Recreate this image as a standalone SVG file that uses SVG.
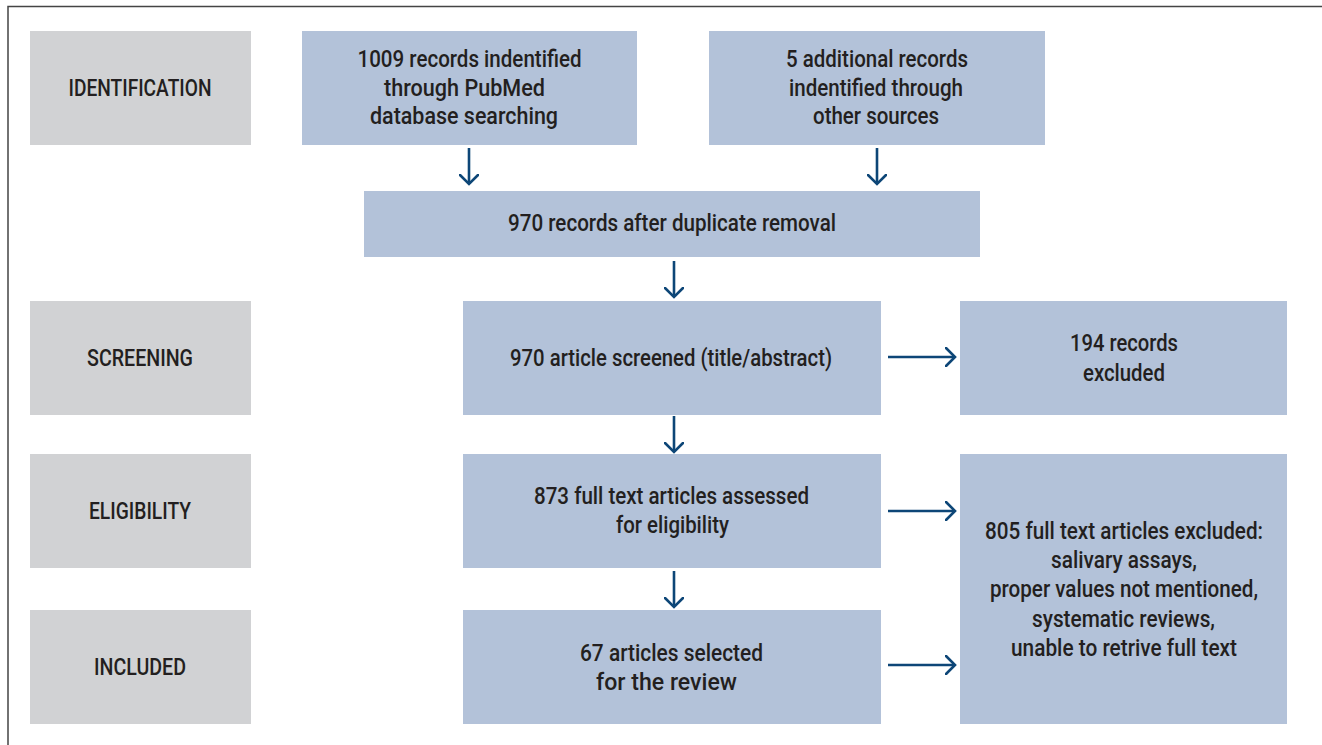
<svg xmlns="http://www.w3.org/2000/svg" width="1322" height="745" viewBox="0 0 1322 745">
<defs>
<marker id="ah" viewBox="0 0 12 20" refX="10" refY="10" markerWidth="12" markerHeight="20" markerUnits="userSpaceOnUse" orient="auto">
<path d="M1,1 L10,10 L1,19" fill="none" stroke="#0d4677" stroke-width="2.6" stroke-linecap="round" stroke-linejoin="miter"/>
</marker>
<style>
.stage{fill:#d1d2d4}
.box{fill:#b3c2d9}
text{font-family:Roboto,"Liberation Sans",sans-serif;font-weight:500;font-size:23px;fill:#231f20;text-anchor:middle}
.conn line{stroke:#0d4677;stroke-width:2.6;marker-end:url(#ah)}
</style>
</defs>
<rect width="1322" height="745" fill="#ffffff"/>
<path d="M8,745 V6.5 H1322" fill="none" stroke="#444" stroke-width="1.5"/>

<g id="identification"><rect class="stage" x="30" y="31" width="221" height="114"/><text x="140" y="96" textLength="143" lengthAdjust="spacingAndGlyphs">IDENTIFICATION</text></g>
<g id="screening"><rect class="stage" x="30" y="301" width="221" height="114"/><text x="140" y="366" textLength="106" lengthAdjust="spacingAndGlyphs">SCREENING</text></g>
<g id="eligibility"><rect class="stage" x="30" y="454" width="221" height="114"/><text x="140" y="519" textLength="102" lengthAdjust="spacingAndGlyphs">ELIGIBILITY</text></g>
<g id="included"><rect class="stage" x="30" y="610" width="221" height="114"/><text x="140" y="675" textLength="92" lengthAdjust="spacingAndGlyphs">INCLUDED</text></g>

<g id="pubmed"><rect class="box" x="302" y="31" width="335" height="114"/>
<text x="469.5" y="66.5" textLength="224" lengthAdjust="spacingAndGlyphs">1009 records indentified</text>
<text x="464.5" y="95.5" textLength="161" lengthAdjust="spacingAndGlyphs">through PubMed</text>
<text x="464" y="124" textLength="188" lengthAdjust="spacingAndGlyphs">database searching</text></g>
<g id="other"><rect class="box" x="709" y="31" width="336" height="114"/>
<text x="877" y="66.5" textLength="182" lengthAdjust="spacingAndGlyphs">5 additional records</text>
<text x="876" y="95.5" textLength="174" lengthAdjust="spacingAndGlyphs">indentified through</text>
<text x="876" y="124" textLength="126" lengthAdjust="spacingAndGlyphs">other sources</text></g>
<g id="dedup"><rect class="box" x="364" y="191" width="616" height="66"/>
<text x="672" y="231" textLength="328" lengthAdjust="spacingAndGlyphs">970 records after duplicate removal</text></g>
<g id="screened"><rect class="box" x="463" y="301" width="418" height="114"/>
<text x="671" y="366" textLength="322" lengthAdjust="spacingAndGlyphs">970 article screened (title/abstract)</text></g>
<g id="excluded1"><rect class="box" x="960" y="301" width="327" height="114"/>
<text x="1124" y="351" textLength="108" lengthAdjust="spacingAndGlyphs">194 records</text>
<text x="1124" y="381" textLength="82" lengthAdjust="spacingAndGlyphs">excluded</text></g>
<g id="assessed"><rect class="box" x="463" y="454" width="418" height="114"/>
<text x="671.5" y="503.5" textLength="275" lengthAdjust="spacingAndGlyphs">873 full text articles assessed</text>
<text x="672.5" y="533" textLength="113" lengthAdjust="spacingAndGlyphs">for eligibility</text></g>
<g id="excluded2"><rect class="box" x="960" y="454" width="327" height="270"/>
<text x="1124" y="539" textLength="278" lengthAdjust="spacingAndGlyphs">805 full text articles excluded:</text>
<text x="1124" y="568" textLength="146" lengthAdjust="spacingAndGlyphs">salivary assays,</text>
<text x="1124" y="597" textLength="268" lengthAdjust="spacingAndGlyphs">proper values not mentioned,</text>
<text x="1123.5" y="627" textLength="183" lengthAdjust="spacingAndGlyphs">systematic reviews,</text>
<text x="1124" y="656" textLength="226" lengthAdjust="spacingAndGlyphs">unable to retrive full text</text></g>
<g id="selected"><rect class="box" x="463" y="610" width="418" height="114"/>
<text x="671.5" y="660.5" textLength="183" lengthAdjust="spacingAndGlyphs">67 articles selected</text>
<text x="666.5" y="690" textLength="141" lengthAdjust="spacingAndGlyphs">for the review</text></g>

<g class="conn" id="connectors">
<line x1="469" y1="148" x2="469" y2="184"/>
<line x1="877" y1="148" x2="877" y2="184"/>
<line x1="674" y1="261" x2="674" y2="297"/>
<line x1="674" y1="416" x2="674" y2="452"/>
<line x1="674" y1="571" x2="674" y2="607"/>
<line x1="888" y1="357" x2="955" y2="357"/>
<line x1="888" y1="511" x2="955" y2="511"/>
<line x1="888" y1="665" x2="955" y2="665"/>
</g>
</svg>
